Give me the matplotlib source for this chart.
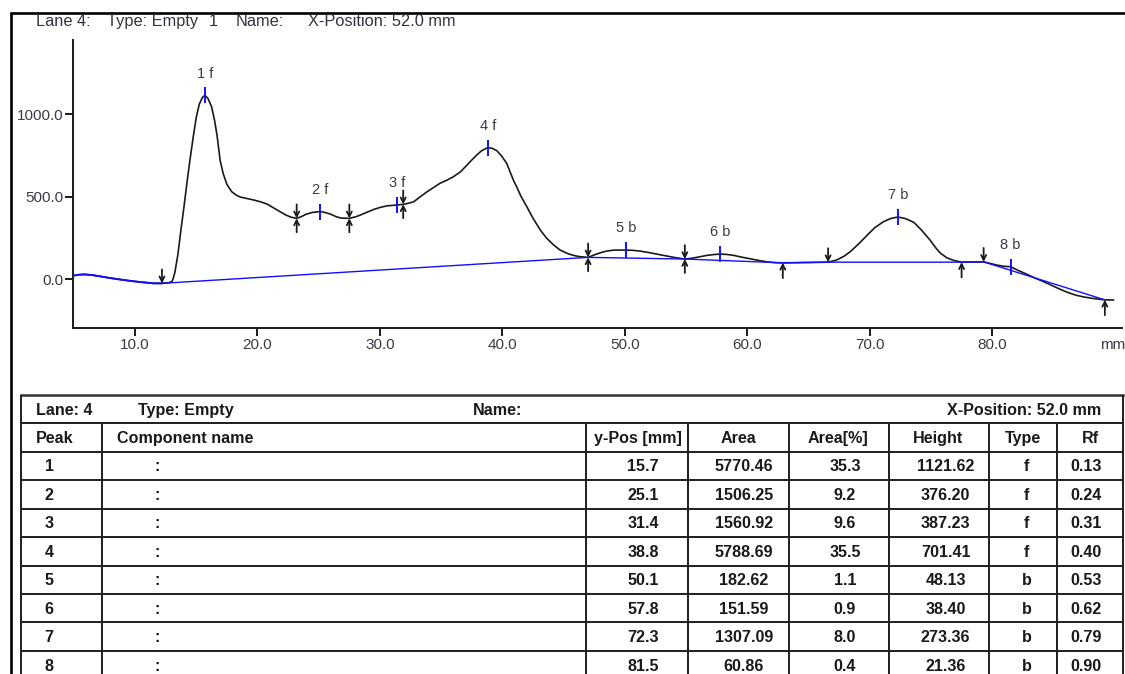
import numpy as np
import matplotlib
matplotlib.use("Agg")
import matplotlib.pyplot as plt

plt.rcParams["font.family"] = ["Liberation Sans", "DejaVu Sans"]

# ---- densitometer scan of lane 4 (position in mm, signal) ----
scan_x = [4.91, 5.4, 5.9, 6.5, 7.1, 7.8, 8.8, 9.6, 10.4, 11.0, 11.5, 12.2, 12.8,
          13.05, 13.25, 13.5, 13.75, 14.0, 14.25, 14.5, 14.75, 15.0, 15.25, 15.5,
          15.95, 16.25, 16.5, 16.7, 16.95, 17.2, 17.5, 17.9, 18.3, 18.6, 19.2, 19.7,
          20.3, 20.8, 21.3, 21.85, 22.3, 22.7, 23.2, 23.6, 24.0, 24.5, 25.5, 25.95,
          26.4, 26.8, 27.5, 28.0, 28.4, 29.0, 29.5, 30.0, 30.6, 31.9, 32.3, 32.75,
          33.3, 33.85, 34.4, 34.9, 35.5, 36.0, 36.6, 37.1, 37.5, 37.9, 38.3, 39.2,
          39.55, 39.95, 40.35, 40.9, 41.2, 41.5, 42.0, 42.5, 43.1, 43.6, 44.2, 44.7,
          45.3, 45.8, 46.35, 47.0, 47.5, 48.0, 48.5, 49.1, 50.6, 51.25, 51.9, 52.6,
          53.3, 54.0, 54.9, 55.5, 56.15, 56.7, 57.25, 58.3, 58.9, 59.5, 60.2, 60.9,
          61.6, 62.3, 62.9, 63.8, 64.8, 65.7, 66.6, 67.3, 67.9, 68.4, 69.1, 69.8,
          70.4, 71.1, 71.7, 72.9, 73.6, 74.2, 74.9, 75.4, 75.75, 76.3, 76.85, 77.5,
          78.4, 79.3, 79.8, 80.4, 81.0, 82.1, 82.8, 83.5, 84.2, 84.9, 85.55, 86.2,
          86.9, 87.6, 88.3, 89.2, 89.9]
scan_y = [22, 28, 30, 26, 19, 10, -1, -9, -16, -20, -24, -24, -20,
          -10, 40, 150, 300, 440, 590, 730, 860, 980, 1060, 1100,
          1095, 1045, 960, 870, 720, 640, 575, 530, 508, 498, 488, 480,
          468, 455, 433, 409, 390, 377, 369, 380, 395, 405, 405, 395,
          380, 371, 369, 378, 389, 408, 423, 435, 445, 454, 460, 469,
          500, 530, 557, 581, 601, 621, 652, 691, 722, 752, 778, 792,
          778, 745, 702, 600, 555, 505, 439, 370, 298, 250, 207, 178,
          157, 145, 137, 133, 148, 161, 171, 177, 176, 171, 163, 153,
          143, 133, 123, 128, 137, 145, 150, 151, 145, 135, 125, 115,
          106, 101, 100, 101, 102, 103, 104, 117, 140, 167, 215, 268,
          312, 348, 368, 368, 345, 300, 240, 190, 160, 130, 115, 104,
          105, 106, 97, 86, 79, 55, 32, 8, -14, -38, -60, -80,
          -97, -108, -116, -124, -125]

# ---- integration: baseline nodes and peak delimiters (mm) ----
baseline_x = [12.2, 47.0, 54.9, 62.9, 66.6, 77.5, 79.3, 89.2]
baseline_y = [-24, 133, 123, 100, 104, 104, 106, -124]
valley_x = [23.2, 27.5, 31.9, 47.0, 54.9]
start_x = [12.2, 66.6, 79.3]
end_x = [62.9, 77.5, 89.2]

# ---- peak report ----
lane = 4
lane_type = "Empty"
x_position = 52.0
peak_no = [1, 2, 3, 4, 5, 6, 7, 8]
peak_pos = [15.7, 25.1, 31.4, 38.8, 50.1, 57.8, 72.3, 81.5]
peak_area = [5770.46, 1506.25, 1560.92, 5788.69, 182.62, 151.59, 1307.09, 60.86]
peak_area_pct = [35.3, 9.2, 9.6, 35.5, 1.1, 0.9, 8.0, 0.4]
peak_height = [1121.62, 376.20, 387.23, 701.41, 48.13, 38.40, 273.36, 21.36]
peak_type = ["f", "f", "f", "f", "b", "b", "b", "b"]
peak_rf = [0.13, 0.24, 0.31, 0.40, 0.53, 0.62, 0.79, 0.90]

W, H = 1125, 674
fig = plt.figure(figsize=(W / 100, H / 100), dpi=100)

# apex of each peak = baseline under it + reported height
apex_y = np.interp(peak_pos, baseline_x, baseline_y) + np.array(peak_height)
prof_x = np.concatenate([scan_x, peak_pos])
prof_y = np.concatenate([scan_y, apex_y])
order = np.argsort(prof_x)
prof_x, prof_y = prof_x[order], prof_y[order]

def px(x0, y0, x1, y1):
    return [x0 / W, 1 - y1 / H, (x1 - x0) / W, (y1 - y0) / H]

ax = fig.add_axes(px(72.7, 40, 1122, 328.3))
ax.set_xlim(4.91, 90.6)
ax.set_ylim(-296, 1448)

ink = "#1a1a1a"
blue = "#1010ff"
label_c = "#3a3a48"

ax.plot(prof_x, prof_y, color=ink, lw=1.2, zorder=3)
pre = prof_x <= baseline_x[0]
ax.plot(prof_x[pre], prof_y[pre], color=blue, lw=1.4, zorder=4)
ax.plot(baseline_x, baseline_y, color=blue, lw=1.0, zorder=4)

# peak markers and labels
for n, x, y, t in zip(peak_no, peak_pos, apex_y, peak_type):
    ax.plot([x], [y], marker="|", ms=12, mew=1.4, color=blue, zorder=5)
    ax.annotate(f"{n} {t}", (x, y), xytext=(0, 10.5), textcoords="offset points",
                ha="center", va="bottom", fontsize=10.5, color=label_c)

arrow = dict(arrowstyle="->,head_length=0.35,head_width=0.18", lw=1.3,
             color=ink, shrinkA=0, shrinkB=0)

def curve_at(x):
    return float(np.interp(x, prof_x, prof_y))

for x in valley_x:
    y = curve_at(x)
    ax.annotate("", (x, y), xytext=(0, 10), textcoords="offset points", arrowprops=arrow, zorder=6)
    ax.annotate("", (x, y), xytext=(0, -10), textcoords="offset points", arrowprops=arrow, zorder=6)
for x in start_x:
    ax.annotate("", (x, curve_at(x)), xytext=(0, 10), textcoords="offset points", arrowprops=arrow, zorder=6)
for x in end_x:
    ax.annotate("", (x, curve_at(x)), xytext=(0, -11), textcoords="offset points", arrowprops=arrow, zorder=6)

for s in ("top", "right"):
    ax.spines[s].set_visible(False)
for s in ("left", "bottom"):
    ax.spines[s].set_linewidth(1.4)
    ax.spines[s].set_color(ink)
xt = list(range(10, 90, 10))
ax.set_xticks(xt)
ax.set_xticklabels([f"{v:.1f}" for v in xt])
yt = [0, 500, 1000]
ax.set_yticks(yt)
ax.set_yticklabels([f"{v:.1f}" for v in yt])
ax.tick_params(axis="both", length=6, width=1.4, color=ink, labelsize=11,
               labelcolor=label_c)
ax.tick_params(axis="x", pad=1)
ax.tick_params(axis="y", pad=0.5)
fig.text(1100 / W, 1 - 349 / H, "mm", fontsize=11, color=label_c, va="baseline")

# page frame and header line
page = fig.add_axes([0, 0, 1, 1], zorder=-1)
page.set_xlim(0, W)
page.set_ylim(H, 0)
page.axis("off")
page.plot([10.5, 10.5, W], [H, 12.7, 12.7], color="black", lw=1.9, solid_joinstyle="miter")
title_y = 26
for txt, x in [("Lane 4:", 36), ("Type: Empty", 107), ("1", 209), ("Name:", 236),
               (f"X-Position: {x_position:.1f} mm", 308)]:
    page.text(x, title_y, txt, fontsize=11.8, color="#333340", va="baseline")

# ---- report table ----
tab = fig.add_axes([0, 0, 1, 1], zorder=2)
tab.set_xlim(0, W)
tab.set_ylim(H, 0)
tab.axis("off")
t_left, t_right, t_top = 21, 1123, 395
row_lines = [423.3, 451.7] + [451.7 + 28.45 * (i + 1) for i in range(len(peak_no))]
col_lines = [102, 586, 688, 789, 889, 989, 1057.3]
line_kw = dict(color="#1e1e1e", lw=1.4, solid_capstyle="butt")
bottom = row_lines[-1]
tab.plot([t_left, t_right], [t_top, t_top], color="#333", lw=1.8)
tab.plot([t_left, t_left], [t_top, bottom], **line_kw)
tab.plot([t_right, t_right], [t_top, bottom], **line_kw)
for y in row_lines:
    tab.plot([t_left, t_right], [y, y], **line_kw)
for x in col_lines:
    tab.plot([x, x], [row_lines[0], bottom], **line_kw)

fs = 11.6
bold = dict(fontsize=fs, fontweight="bold", color="#1a1a1a", va="center")
yl = 410.5
tab.text(35.6, yl, f"Lane: {lane}", ha="left", **bold)
tab.text(137.8, yl, f"Type: {lane_type}", ha="left", **bold)
tab.text(472.6, yl, "Name:", ha="left", **bold)
tab.text(1101, yl, f"X-Position: {x_position:.1f} mm", ha="right", **bold)

yh = 438.5
tab.text(35.6, yh, "Peak", ha="left", **bold)
tab.text(116.7, yh, "Component name", ha="left", **bold)
headers = ["y-Pos [mm]", "Area", "Area[%]", "Height", "Type", "Rf"]
head_cx = [637.5, 738, 838, 938, 1023, 1090]
for h, cx in zip(headers, head_cx):
    tab.text(cx, yh, h, ha="center", **bold)

val_cx = [643, 744, 845, 945.6, 1026.7, 1086]
for i in range(len(peak_no)):
    yc = (row_lines[i + 1] + row_lines[i + 2]) / 2 + 1
    tab.text(49, yc, str(peak_no[i]), ha="center", **bold)
    tab.text(157, yc, ":", ha="center", **bold)
    cells = [f"{peak_pos[i]:.1f}", f"{peak_area[i]:.2f}", f"{peak_area_pct[i]:.1f}",
             f"{peak_height[i]:.2f}", peak_type[i], f"{peak_rf[i]:.2f}"]
    for c, cx in zip(cells, val_cx):
        tab.text(cx, yc, c, ha="center", **bold)

fig.savefig("out.png", dpi=100)
